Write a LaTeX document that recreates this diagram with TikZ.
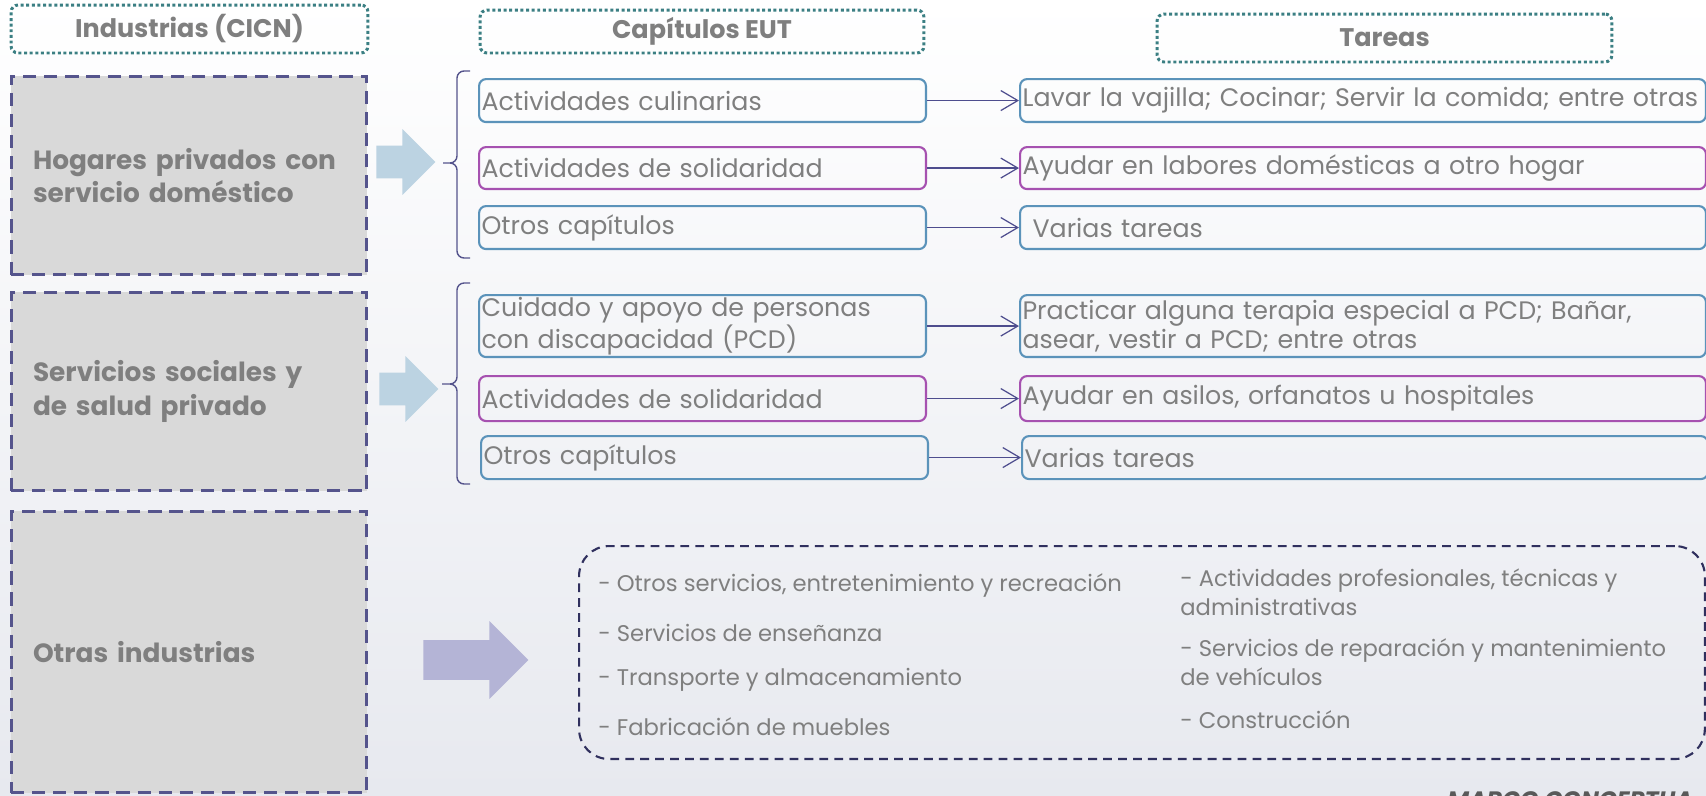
\documentclass[tikz,border=0pt]{standalone}
\usepackage{fontspec}
\setmainfont{Poppins}
\usetikzlibrary{arrows.meta,positioning,shapes.arrows}

\definecolor{txtgris}{HTML}{7F7F7F}
\definecolor{verdepunto}{HTML}{3B7F83}
\definecolor{lila}{HTML}{55548C}
\definecolor{grisfondo}{HTML}{D9D9D9}
\definecolor{azulcaja}{HTML}{5B93BA}
\definecolor{moradocaja}{HTML}{A651B0}
\definecolor{azulflecha}{HTML}{BCD3E2}
\definecolor{lilaflecha}{HTML}{B4B4D6}
\definecolor{conector}{HTML}{4E4D8E}
\definecolor{marino}{HTML}{30305E}
\definecolor{fondoabajo}{HTML}{E7E9EF}
\definecolor{marcogris}{HTML}{595959}

\begin{document}
\begin{tikzpicture}[x=0.02cm,y=-0.02cm,->,>={Straight Barb[length=3.4mm,width=4mm]},
  node distance=1.84cm,
  hdr/.style={draw=verdepunto,line width=1.7pt,dash pattern=on 1.7pt off 1.5pt,
    rounded corners=4pt,text=txtgris,font=\fontsize{14.5}{17}\selectfont\bfseries},
  ind/.style={draw=lila,fill=grisfondo,line width=1.7pt,dash pattern=on 7.5pt off 4.5pt,
    minimum width=7.12cm,text width=6.24cm,inner xsep=0.44cm,align=left,
    text=txtgris,font=\fontsize{15}{19}\selectfont\bfseries},
  caja/.style={rounded corners=4pt,line width=1.2pt,text=txtgris,align=left,
    inner xsep=0.05cm,inner ysep=0pt,font=\fontsize{14.4}{16.5}\selectfont},
  bordeazul/.style={caja,draw=azulcaja},
  bordemorado/.style={caja,draw=moradocaja},
  capitulo/.style={anchor=north west,minimum width=8.94cm,text width=8.84cm},
  tarea/.style={minimum width=13.72cm,text width=13.62cm},
  flecha/.style={single arrow,draw=none,inner xsep=0pt},
  llave/.style={-,lila,line width=0.8pt,rounded corners=4pt},
  item/.style={anchor=west,inner sep=0pt,align=left,text=txtgris,
    font=\fontsize{12.9}{16.5}\selectfont}]

\useasboundingbox (0,0) rectangle (1706,795);
\clip (0,0) rectangle (1706,795);
\fill[top color=white,bottom color=fondoabajo] (0,0) rectangle (1706,795);

% encabezados
\node[hdr,minimum width=7.14cm,minimum height=0.96cm] (h1) at (189.5,29) {Industrias (CICN)};
\node[hdr,minimum width=8.88cm,minimum height=0.86cm] (h2) at (702,31.5) {Capítulos EUT};
\node[hdr,minimum width=9.1cm,minimum height=0.96cm] (h3) at (1384.5,38) {Tareas};

% industrias
\node[ind,minimum height=3.98cm] (hogares) at (189,175.5) {Hogares privados con\\servicio doméstico};
\node[ind,minimum height=3.98cm] (sociales) at (189,391.5) {Servicios sociales y\\de salud privado};
\node[ind,minimum height=5.64cm] (otras) at (189,652) {Otras industrias};

\node[flecha,fill=azulflecha,inner ysep=0.32cm,single arrow head extend=0.33cm,
  minimum height=1.18cm,anchor=tail] (fl1) at (376,162) {};
\node[flecha,fill=azulflecha,inner ysep=0.32cm,single arrow head extend=0.33cm,
  minimum height=1.18cm,anchor=tail] (fl2) at (379,389) {};
\node[flecha,fill=lilaflecha,inner ysep=0.39cm,single arrow head extend=0.38cm,
  minimum height=2.1cm,anchor=tail] (fl3) at (423,660) {};

% llaves
\draw[llave] (470,71) -- (457,71) -- (457,163) -- (443,163)
  (470,258) -- (457,258) -- (457,163) -- (443,163);
\draw[llave] (470,283) -- (457,283) -- (457,384) -- (442,384)
  (470,484) -- (457,484) -- (457,384) -- (442,384);

% capitulos EUT
\node[bordeazul,capitulo,minimum height=0.86cm] (c1) at (478,78) {Actividades culinarias};
\node[bordemorado,capitulo,minimum height=0.84cm] (c2) at (478,146) {Actividades de solidaridad};
\node[bordeazul,capitulo,minimum height=0.86cm] (c3) at (478,205) {Otros capítulos};
\node[bordeazul,capitulo,minimum height=1.24cm] (c4) at (478,294) {Cuidado y apoyo de personas\\con discapacidad (PCD)};
\node[bordemorado,capitulo,minimum height=0.9cm] (c5) at (478,375) {Actividades de solidaridad};
\node[bordeazul,capitulo,minimum height=0.86cm] (c6) at (480,435) {Otros capítulos};

% tareas
\node[bordeazul,tarea,minimum height=0.86cm] (t1) [right=of c1] {Lavar la vajilla; Cocinar; Servir la comida; entre otras};
\node[bordemorado,tarea,minimum height=0.84cm] (t2) [right=of c2] {Ayudar en labores domésticas a otro hogar};
\node[bordeazul,tarea,minimum height=0.86cm] (t3) [right=of c3] {\hspace*{0.2cm}Varias tareas};
\node[bordeazul,tarea,minimum height=1.24cm] (t4) [right=of c4] {Practicar alguna terapia especial a PCD; Bañar,\\asear, vestir a PCD; entre otras};
\node[bordemorado,tarea,minimum height=0.9cm] (t5) [right=of c5] {Ayudar en asilos, orfanatos u hospitales};
\node[bordeazul,tarea,minimum height=0.86cm] (t6) [right=of c6] {Varias tareas};

\path[conector,line width=0.7pt] (c1) edge (t1)
  (c2) edge (t2)
  (c3) edge (t3)
  (c4) edge (t4)
  (c5) edge (t5)
  (c6) edge (t6);

% otras industrias
\node[draw=marino,line width=1.2pt,dash pattern=on 5pt off 3.5pt,rounded corners=0.6cm,
  anchor=north west,minimum width=22.52cm,minimum height=4.26cm] (lista) at (578,545) {};
\node[item] (l1) at (598,585) {- Otros servicios, entretenimiento y recreación};
\node[item] (l2) at (598,633) {- Servicios de enseñanza};
\node[item] (l3) at (598,680) {- Transporte y almacenamiento};
\node[item] (l4) at (598,727) {- Fabricación de muebles};
\node[item] (r1) at (1180,592.5) {- Actividades profesionales, técnicas y\\administrativas};
\node[item] (r2) at (1180,662.5) {- Servicios de reparación y mantenimiento\\de vehículos};
\node[item] (r3) at (1180,720) {- Construcción};

\node[anchor=base west,inner sep=0pt,text=marcogris,font=\fontsize{13.5}{16}\selectfont\bfseries\itshape]
  (marco) at (1447,808) {MARCO CONCEPTUA};

\end{tikzpicture}
\end{document}
